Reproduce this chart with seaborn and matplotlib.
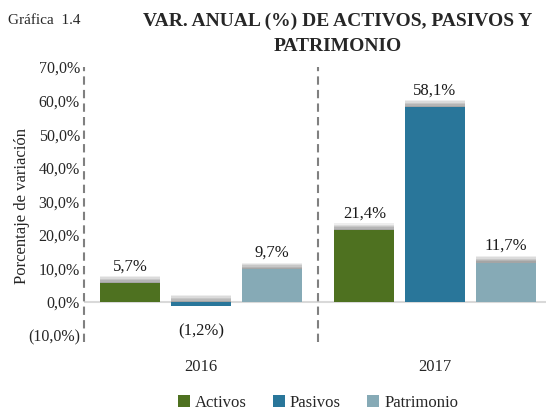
import pandas as pd
import matplotlib
matplotlib.use("Agg")
import matplotlib.pyplot as plt
import matplotlib.patheffects as pe
from matplotlib.patches import Patch
import seaborn as sns

# =====================================================
# DATA
# =====================================================

years = ["2016", "2017"]
series = ["Activos", "Pasivos", "Patrimonio"]
activos = [5.7, 21.4]
pasivos = [-1.2, 58.1]
patrimonio = [9.7, 11.7]

colors = ["#4e7120", "#29769a", "#86aab6"]

rows = []
for name, vals in zip(series, [activos, pasivos, patrimonio]):
    for year, v in zip(years, vals):
        rows.append({"year": year, "serie": name, "value": v})
df = pd.DataFrame(rows)


def fmt_pct(v, dec=1):
    s = f"{abs(v):.{dec}f}".replace(".", ",") + "%"
    return f"({s})" if v < 0 else s


# =====================================================
# FIGURE
# =====================================================

sns.set_theme(style="white")
plt.rcParams["font.family"] = ["Liberation Serif", "DejaVu Serif"]

fig = plt.figure(figsize=(5.46, 4.13), dpi=100)
ax = fig.add_axes([84 / 546, 1 - 342 / 413, 468 / 546, 275 / 413])

sns.barplot(
    data=df,
    x="year",
    y="value",
    hue="serie",
    order=years,
    hue_order=series,
    palette=colors,
    width=0.906,
    gap=0.15,
    saturation=1,
    legend=False,
    ax=ax,
)

# soft shadow above the bars
shadow = [
    pe.SimplePatchShadow(offset=(0, 5.0), shadow_rgbFace="#c8c8c8", alpha=0.3),
    pe.SimplePatchShadow(offset=(0, 4.0), shadow_rgbFace="#b0b0b0", alpha=0.3),
    pe.SimplePatchShadow(offset=(0, 3.0), shadow_rgbFace="#999999", alpha=0.3),
    pe.SimplePatchShadow(offset=(0, 2.0), shadow_rgbFace="#8c8c8c", alpha=0.3),
    pe.SimplePatchShadow(offset=(0, 1.0), shadow_rgbFace="#808080", alpha=0.3),
    pe.Normal(),
]
for p in ax.patches:
    p.set_path_effects(shadow)
    p.set_edgecolor("none")

# value labels
for cont in ax.containers:
    for bar in cont:
        v = bar.get_height()
        x = bar.get_x() + bar.get_width() / 2
        off = 12 if v >= 0 else -18
        ax.annotate(fmt_pct(v), (x, v), xytext=(0, off), textcoords="offset points",
                    ha="center", va="center", fontsize=12, color="#1a1a1a")

ax.set_xlim(-0.5, 1.5)
ax.set_ylim(-11.9, 70)
ax.set_yticks(range(-10, 71, 10))
ax.set_yticklabels([fmt_pct(t) for t in range(-10, 71, 10)], fontsize=11.5)
ax.tick_params(axis="y", length=0, pad=3)
ax.tick_params(axis="x", length=0, pad=12, labelsize=12)
ax.set_xlabel("")
ax.set_ylabel("")

for s in ax.spines.values():
    s.set_visible(False)

ax.axhline(0, color="#d9d9d9", lw=1.5, zorder=0)
for xv in [-0.5, 0.5]:
    ax.axvline(xv, color="#808080", lw=1.5, ls=(0, (4, 2.5)), clip_on=False, zorder=0)

# legend
handles = [Patch(facecolor=c, edgecolor="none", label=s) for s, c in zip(series, colors)]
fig.legend(
    handles=handles,
    loc="center", bbox_to_anchor=(318 / 546, 1 - 403 / 413),
    ncol=3, frameon=False, fontsize=12,
    handlelength=0.7, handleheight=0.7, handletextpad=0.3, columnspacing=1.6,
)

# texts
fig.text(22 / 546, 0.5, "Porcentaje de variación", rotation=90,
         ha="center", va="center", fontsize=12)
fig.text(8 / 546, 1 - 20 / 413, "Gráfica  1.4", ha="left", va="center", fontsize=11)
fig.text(338 / 546, 1 - 34 / 413, "VAR. ANUAL (%) DE ACTIVOS, PASIVOS Y\nPATRIMONIO",
         ha="center", va="center", fontsize=14, fontweight="bold", linespacing=1.6)

fig.savefig("out.png", dpi=100)
